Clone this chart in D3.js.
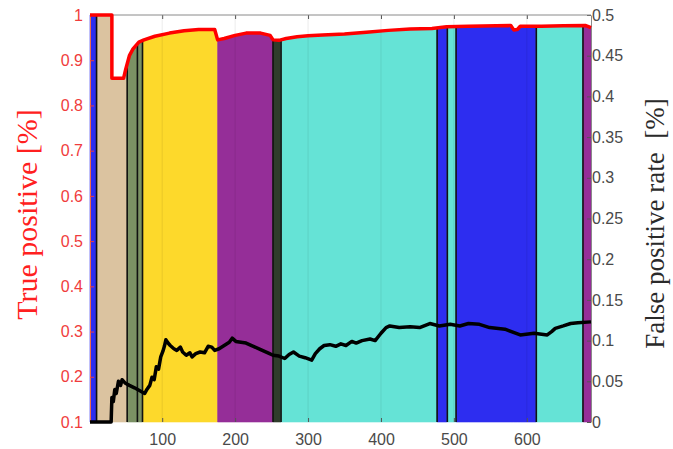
<!DOCTYPE html>
<html>
<head>
<meta charset="utf-8">
<script src="https://cdn.jsdelivr.net/npm/d3@7"></script>
<style>
  body { margin: 0; background: #fff; }
  svg { display: block; }
</style>
</head>
<body>
<div id="chart"></div>
<script>
// sample index
const xTicks = [100, 200, 300, 400, 500, 600];
const tpTicks = [0.1, 0.2, 0.3, 0.4, 0.5, 0.6, 0.7, 0.8, 0.9, 1];
const fprTicks = [0, 0.05, 0.1, 0.15, 0.2, 0.25, 0.3, 0.35, 0.4, 0.45, 0.5];

// true positive (left axis)
const tpX = [1, 31, 31, 47, 50, 55, 60, 68, 75, 90, 110, 130, 150, 172, 176, 185, 200, 215, 235, 248, 252,
  260, 270, 285, 300, 320, 350, 380, 410, 440, 470, 490, 520, 578, 582, 587, 591, 620, 650, 680, 688];
const tpY = [1, 1, 0.86, 0.86, 0.88, 0.91, 0.925, 0.94, 0.945, 0.953, 0.96, 0.965, 0.968, 0.968, 0.945, 0.948, 0.955, 0.96, 0.96, 0.955, 0.945,
  0.944, 0.948, 0.952, 0.954, 0.956, 0.958, 0.962, 0.966, 0.969, 0.97, 0.974, 0.975, 0.977, 0.967, 0.968, 0.975, 0.975, 0.976, 0.977, 0.972];

// false positive rate (right axis)
const fprX = [1, 30, 31, 33, 35, 37, 40, 43, 45, 49, 55, 62, 70, 76, 79, 83, 86, 89, 92, 95, 98, 101, 103, 105, 108,
  111, 116, 120, 125, 128, 133, 138, 141, 146, 152, 158, 163, 168, 172, 178, 185, 192, 196, 201, 208, 215, 225, 235,
  245, 252, 260, 268, 274, 280, 288, 296, 305, 310, 316, 322, 330, 338, 345, 352, 360, 366, 374, 385, 392, 400, 407,
  412, 425, 440, 453, 467, 480, 495, 508, 520, 535, 549, 570, 591, 610, 628, 634, 639, 650, 660, 670, 688];
const fprY = [0, 0, 0.03, 0.025, 0.04, 0.035, 0.05, 0.045, 0.052, 0.048, 0.045, 0.042, 0.038, 0.035, 0.04, 0.045, 0.055, 0.052, 0.068, 0.065, 0.08, 0.087, 0.093, 0.101, 0.097,
  0.094, 0.09, 0.088, 0.092, 0.086, 0.082, 0.085, 0.08, 0.084, 0.086, 0.085, 0.093, 0.092, 0.088, 0.09, 0.094, 0.098, 0.103, 0.099, 0.098, 0.097, 0.093, 0.089,
  0.085, 0.082, 0.081, 0.078, 0.083, 0.086, 0.081, 0.079, 0.076, 0.084, 0.09, 0.094, 0.095, 0.093, 0.096, 0.094, 0.099, 0.097, 0.1, 0.102, 0.1, 0.109, 0.116,
  0.118, 0.116, 0.117, 0.116, 0.121, 0.118, 0.12, 0.118, 0.121, 0.12, 0.116, 0.114, 0.107, 0.109, 0.107, 0.111, 0.115, 0.118, 0.121, 0.122, 0.123];

// class segments under the TP curve
const segStart = [1, 10, 52, 73, 176, 252, 263, 477, 491, 503, 613, 677];
const segEnd = [10, 52, 73, 176, 252, 263, 477, 491, 503, 613, 677, 688];
const segColor = ["#2d2df0", "#dbc3a0", "#7b9164", "#fdd92b", "#952e98", "#2f3d2c",
  "#65e3d6", "#2d2df0", "#65e3d6", "#2d2df0", "#65e3d6", "#952e98"];
const edgeX = [10, 52, 66, 73, 252, 263, 477, 491, 503, 613, 677];

const margin = { top: 15, right: 82, bottom: 27, left: 90 };
const width = 673 - margin.left - margin.right;
const height = 449 - margin.top - margin.bottom;

const svg = d3.select("#chart").append("svg")
  .attr("width", 673)
  .attr("height", 449)
  .append("g")
  .attr("transform", "translate(" + margin.left + "," + margin.top + ")");

const x = d3.scaleLinear().domain([1, 688]).range([0, width]);
const yL = d3.scaleLinear().domain([0.1, 1]).range([height, 0]);
const yR = d3.scaleLinear().domain([0, 0.5]).range([height, 0]);

const tp = tpX.map((v, i) => ({ x: v, y: tpY[i] }));
const fpr = fprX.map((v, i) => ({ x: v, y: fprY[i] }));

function tpAt(v) {
  for (let i = 1; i < tp.length; i++) {
    if (v <= tp[i].x) {
      const a = tp[i - 1], b = tp[i];
      if (b.x === a.x) return a.y;
      return a.y + (b.y - a.y) * (v - a.x) / (b.x - a.x);
    }
  }
  return tp[tp.length - 1].y;
}

// Filled class areas
const area = d3.area()
  .x(d => x(d.x))
  .y0(height)
  .y1(d => yL(d.y));

segStart.forEach((s, i) => {
  const e = segEnd[i];
  const pts = [{ x: s, y: tpAt(s) }]
    .concat(tp.filter(d => d.x > s && d.x < e))
    .concat([{ x: e, y: tpAt(e) }]);
  svg.append("path")
    .datum(pts)
    .attr("fill", segColor[i])
    .attr("stroke", segColor[i])
    .attr("stroke-width", 0.6)
    .attr("d", area);
});

// faint grid
svg.selectAll(".grid")
  .data(xTicks)
  .enter()
  .append("line")
  .attr("x1", d => x(d)).attr("x2", d => x(d))
  .attr("y1", 0).attr("y2", height)
  .attr("stroke", "#000")
  .attr("stroke-opacity", 0.08)
  .attr("stroke-width", 1);

// segment edges
svg.selectAll(".edge")
  .data(edgeX)
  .enter()
  .append("line")
  .attr("x1", d => x(d)).attr("x2", d => x(d))
  .attr("y1", height).attr("y2", d => yL(tpAt(d)))
  .attr("stroke", "#111")
  .attr("stroke-width", 1.6);

// Axes
const fontTick = "'Liberation Sans', Arial, sans-serif";

const gx = svg.append("g")
  .attr("transform", "translate(0," + height + ")")
  .call(d3.axisBottom(x).tickValues(xTicks).tickSizeInner(-4).tickSizeOuter(0).tickPadding(12));
gx.select(".domain").remove();
gx.selectAll("line").attr("stroke", "#555");
gx.selectAll("text").attr("fill", "#4a4a4a").style("font-size", "16px").style("font-family", fontTick);

const gxt = svg.append("g")
  .call(d3.axisTop(x).tickValues(xTicks).tickSizeInner(-4).tickSizeOuter(0).tickFormat(""));
gxt.select(".domain").remove();
gxt.selectAll("line").attr("stroke", "#555");

const gl = svg.append("g")
  .call(d3.axisLeft(yL).tickValues(tpTicks).tickSizeInner(-4).tickSizeOuter(0).tickPadding(7).tickFormat(d3.format("")));
gl.select(".domain").attr("stroke", "#f06a4a");
gl.selectAll("line").attr("stroke", "#f03c3c");
gl.selectAll("text").attr("fill", "#f03c3c").style("font-size", "16px").style("font-family", fontTick);

const gr = svg.append("g")
  .attr("transform", "translate(" + width + ",0)")
  .call(d3.axisRight(yR).tickValues(fprTicks).tickSizeInner(-4).tickSizeOuter(0).tickPadding(1).tickFormat(d3.format("")));
gr.select(".domain").attr("stroke", "#8a8a8a");
gr.selectAll("line").attr("stroke", "#555");
gr.selectAll("text").attr("fill", "#4a4a4a").style("font-size", "16px").style("font-family", fontTick);

// top frame
svg.append("line")
  .attr("x1", 0).attr("x2", width)
  .attr("y1", 0).attr("y2", 0)
  .attr("stroke", "#8a8a8a");

// FPR line
svg.append("path")
  .datum(fpr)
  .attr("fill", "none")
  .attr("stroke", "#000")
  .attr("stroke-width", 3.5)
  .attr("stroke-linejoin", "round")
  .attr("d", d3.line().x(d => x(d.x)).y(d => yR(d.y)));

// TP line
svg.append("path")
  .datum(tp)
  .attr("fill", "none")
  .attr("stroke", "#ff0000")
  .attr("stroke-width", 3.5)
  .attr("stroke-linejoin", "round")
  .attr("d", d3.line().x(d => x(d.x)).y(d => yL(d.y)));

// Axis titles
svg.append("text")
  .attr("transform", "translate(" + (37 - margin.left) + "," + (height / 2 - 4) + ") rotate(-90)")
  .attr("text-anchor", "middle")
  .attr("fill", "#ff2020")
  .style("font-family", "'Liberation Serif', 'Times New Roman', serif")
  .style("font-size", "30px")
  .text("True positive [%]");

svg.append("text")
  .attr("transform", "translate(" + (664 - margin.left) + "," + (height / 2 + 5) + ") rotate(-90)")
  .attr("text-anchor", "middle")
  .attr("fill", "#2a2a2a")
  .style("font-family", "'Liberation Serif', 'Times New Roman', serif")
  .style("font-size", "27px")
  .style("white-space", "pre")
  .text("False positive rate  [%]");
</script>
</body>
</html>
